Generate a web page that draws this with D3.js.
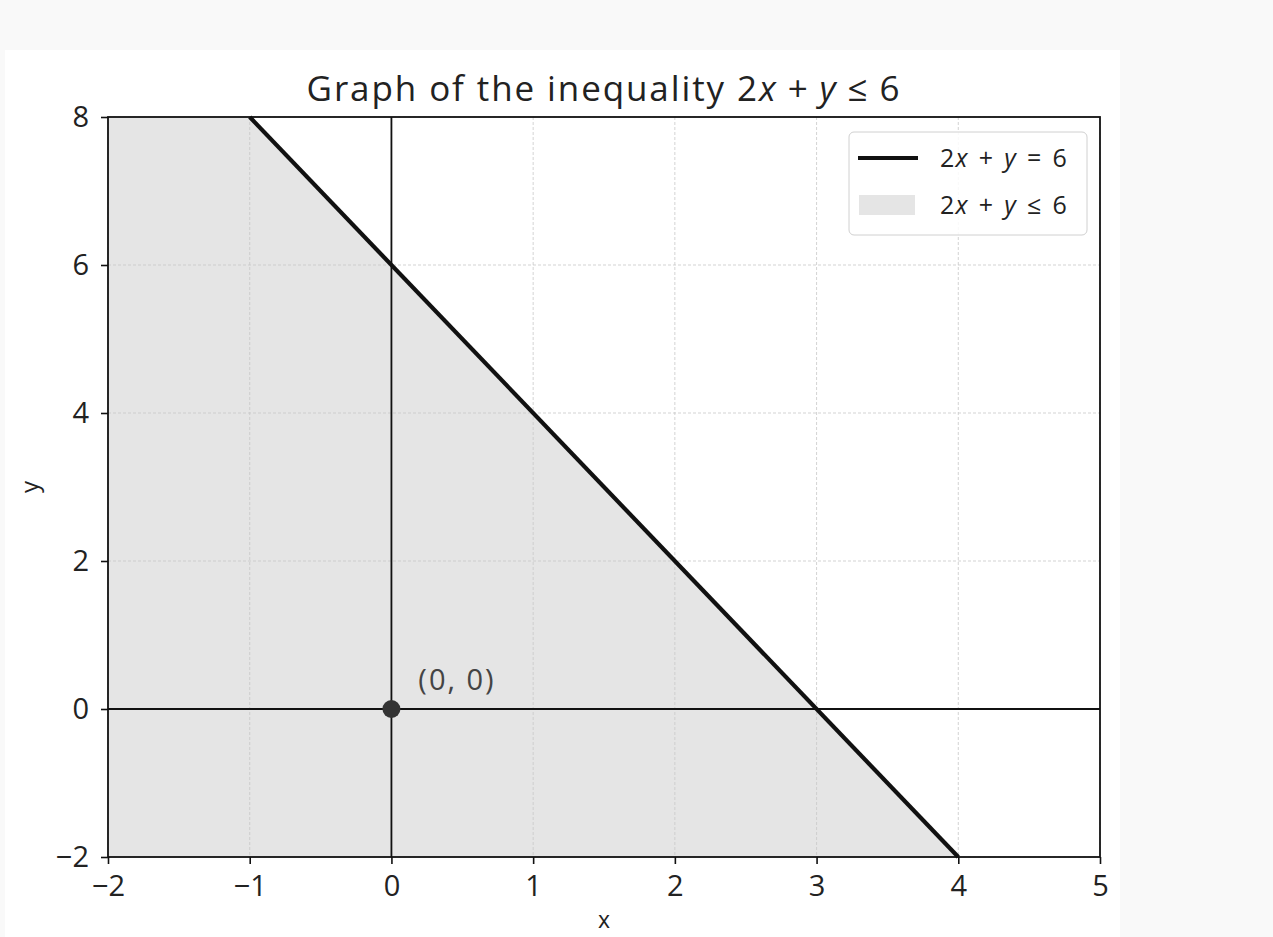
<!DOCTYPE html>
<html>
<head>
<meta charset="utf-8">
<script src="https://cdn.jsdelivr.net/npm/d3@7"></script>
<style>
  body { margin: 0; background: #f9f9f9; }
  svg { display: block; }
</style>
</head>
<body>
<div id="chart"></div>
<script>
// data
var xTicks = [-2, -1, 0, 1, 2, 3, 4, 5];
var yTicks = [-2, 0, 2, 4, 6, 8];
var xDomain = [-2, 5];
var yDomain = [-2, 8];
var boundary = [[-1, 8], [4, -2]];            // 2x + y = 6 inside the view
var shaded = [[-2, -2], [-2, 8], [-1, 8], [4, -2]];
var testPoint = [0, 0];
var testLabel = "(0, 0)";

var W = 1273, H = 937;
var margin = {top: 117, right: 173, bottom: 80, left: 108},
    width = 1100 - margin.left,
    height = 857 - margin.top;

var font = "'Open Sans', 'DejaVu Sans', sans-serif";

var root = d3.select("#chart").append("svg")
    .attr("width", W)
    .attr("height", H);

// figure background
root.append("rect")
    .attr("x", 5).attr("y", 50)
    .attr("width", 1115).attr("height", H - 50)
    .style("fill", "#ffffff");

var svg = root.append("g")
    .attr("transform", "translate(" + margin.left + "," + margin.top + ")");

var x = d3.scaleLinear().domain(xDomain).range([0, width]);
var y = d3.scaleLinear().domain(yDomain).range([height, 0]);

// shaded region
svg.append("path")
    .datum(shaded)
    .attr("d", d3.line().x(function(d) { return x(d[0]); }).y(function(d) { return y(d[1]); }))
    .style("fill", "#e5e5e5");

// grid
svg.selectAll(".vgrid")
  .data(xTicks)
  .enter().append("line")
    .attr("x1", function(d) { return x(d); })
    .attr("x2", function(d) { return x(d); })
    .attr("y1", 0).attr("y2", height)
    .style("stroke", "#c8c8c8")
    .style("stroke-width", 0.8)
    .style("stroke-dasharray", "3,2");
svg.selectAll(".hgrid")
  .data(yTicks)
  .enter().append("line")
    .attr("y1", function(d) { return y(d); })
    .attr("y2", function(d) { return y(d); })
    .attr("x1", 0).attr("x2", width)
    .style("stroke", "#c8c8c8")
    .style("stroke-width", 0.8)
    .style("stroke-dasharray", "3,2");

// x = 0 and y = 0 lines
svg.append("line")
    .attr("x1", x(0)).attr("x2", x(0))
    .attr("y1", 0).attr("y2", height)
    .style("stroke", "#111").style("stroke-width", 1.8);
svg.append("line")
    .attr("x1", 0).attr("x2", width)
    .attr("y1", y(0)).attr("y2", y(0))
    .style("stroke", "#111").style("stroke-width", 1.8);

// boundary line
svg.append("path")
    .datum(boundary)
    .attr("d", d3.line().x(function(d) { return x(d[0]); }).y(function(d) { return y(d[1]); }))
    .style("fill", "none")
    .style("stroke", "#111")
    .style("stroke-width", 4.2);

// test point
svg.append("circle")
    .attr("cx", x(testPoint[0]))
    .attr("cy", y(testPoint[1]))
    .attr("r", 9)
    .style("fill", "#333");
svg.append("text")
    .attr("x", x(testPoint[0] + 0.19))
    .attr("y", y(testPoint[1] + 0.26))
    .text(testLabel)
    .attr("font-family", font)
    .style("font-size", "29px")
    .style("letter-spacing", "2px")
    .style("fill", "#444");

// axes
var fmt = function(d) { return d < 0 ? "\u2212" + Math.abs(d) : d; };
var xAxis = svg.append("g")
    .attr("transform", "translate(0," + height + ")")
    .call(d3.axisBottom(x).tickValues(xTicks).tickSize(7).tickSizeOuter(0).tickPadding(11).tickFormat(fmt));
var yAxis = svg.append("g")
    .call(d3.axisLeft(y).tickValues(yTicks).tickSize(7).tickSizeOuter(0).tickPadding(12).tickFormat(fmt));
[xAxis, yAxis].forEach(function(a) {
  a.select(".domain").remove();
  a.selectAll("line").style("stroke", "#111").style("stroke-width", 1.6);
  a.selectAll("text").attr("font-family", font).style("font-size", "29px").style("fill", "#222");
});

// frame
svg.append("rect")
    .attr("width", width).attr("height", height)
    .style("fill", "none")
    .style("stroke", "#111")
    .style("stroke-width", 1.8);

// axis labels
svg.append("text")
    .attr("x", width / 2).attr("y", height + 71)
    .attr("text-anchor", "middle")
    .text("x")
    .attr("font-family", font).style("font-size", "23px").style("fill", "#222");
svg.append("text")
    .attr("transform", "translate(" + (-70) + "," + (height / 2) + ") rotate(-90)")
    .attr("text-anchor", "middle")
    .text("y")
    .attr("font-family", font).style("font-size", "24px").style("fill", "#222");

// math-like text: italic variables, wide spacing around operators
function mathText(sel, prefix, op, gap) {
  if (prefix) sel.append("tspan").text(prefix);
  sel.append("tspan").text("2");
  sel.append("tspan").text("x").style("font-style", "italic");
  sel.append("tspan").attr("dx", gap).text("+");
  sel.append("tspan").attr("dx", gap).text("y").style("font-style", "italic");
  sel.append("tspan").attr("dx", gap).text(op);
  sel.append("tspan").attr("dx", gap).text("6");
}

// title
var title = root.append("text")
    .attr("x", margin.left + width / 2).attr("y", 101)
    .attr("text-anchor", "middle")
    .attr("font-family", font).style("font-size", "35px")
    .style("letter-spacing", "1.9px").style("fill", "#222");
mathText(title, "Graph of the inequality ", "\u2264", 10);

// legend
var lg = root.append("g").attr("transform", "translate(849,132)");
lg.append("rect")
    .attr("width", 238).attr("height", 103)
    .attr("rx", 5)
    .style("fill", "#ffffff")
    .style("fill-opacity", 0.85)
    .style("stroke", "#d0d0d0");
lg.append("line")
    .attr("x1", 9).attr("x2", 69).attr("y1", 26).attr("y2", 26)
    .style("stroke", "#111").style("stroke-width", 4.2);
lg.append("rect")
    .attr("x", 10).attr("y", 63).attr("width", 56).attr("height", 20)
    .style("fill", "#e5e5e5");
var legendItems = [["=", 35], ["\u2264", 82]];
legendItems.forEach(function(it) {
  var t = lg.append("text")
      .attr("x", 91).attr("y", it[1])
      .attr("font-family", font).style("font-size", "25px")
      .style("letter-spacing", "1.2px").style("fill", "#222");
  mathText(t, null, it[0], 10);
});
</script>
</body>
</html>
